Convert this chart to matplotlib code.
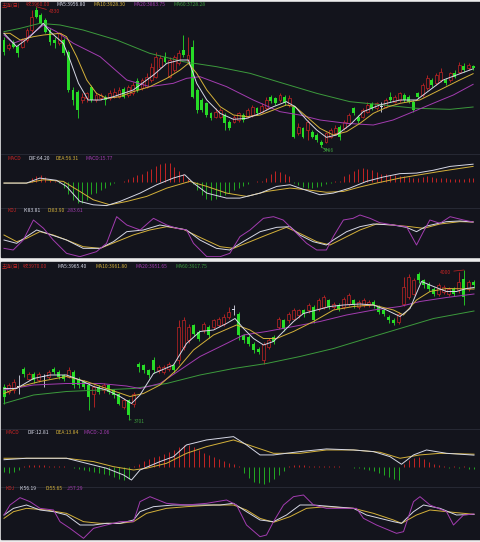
import numpy as np
import matplotlib.pyplot as plt
from matplotlib.patches import Rectangle
from matplotlib.lines import Line2D

plt.rcParams['font.family'] = ['Noto Sans CJK SC', 'DejaVu Sans']

# =============================
# Upper chart (daily candles)
# =============================
top_open = [4130, 4080, 4120, 4090, 4090, 4130, 4190, 4310, 4280, 4250,
            4190, 4130, 4110, 4130, 4060, 3830, 3820, 3770, 3780, 3850,
            3770, 3780, 3790, 3780, 3790, 3790, 3834, 3800, 3810, 3884,
            3840, 3850, 3890, 3910, 3970, 4030, 3910, 3950, 3990, 4070,
            4000, 4090, 3830, 3770, 3750, 3690, 3670, 3670, 3680, 3640,
            3640, 3650, 3680, 3670, 3680, 3720, 3700, 3720, 3790, 3780,
            3770, 3790, 3740, 3730, 3570, 3600, 3590, 3580, 3560, 3520,
            3520, 3550, 3570, 3610, 3600, 3630, 3720, 3670, 3670, 3700,
            3746, 3720, 3730, 3730, 3790, 3760, 3770, 3800, 3790, 3760,
            3810, 3800, 3840, 3890, 3870, 3890, 3890, 3890, 3934, 3940,
            3974, 3960, 3974]
top_close = [4060, 4100, 4090, 4050, 4130, 4190, 4270, 4270, 4230, 4180,
             4120, 4110, 4170, 4050, 3830, 3770, 3710, 3790, 3810, 3770,
             3800, 3800, 3770, 3810, 3820, 3830, 3790, 3850, 3860, 3830,
             3890, 3910, 3970, 4030, 4020, 4000, 4010, 4030, 4050, 4040,
             4040, 3790, 3710, 3710, 3680, 3660, 3700, 3710, 3630, 3600,
             3670, 3690, 3650, 3710, 3730, 3694, 3734, 3770, 3764, 3750,
             3800, 3750, 3780, 3550, 3610, 3550, 3640, 3550, 3530, 3500,
             3570, 3590, 3600, 3550, 3640, 3680, 3690, 3646, 3710, 3740,
             3720, 3750, 3732, 3770, 3770, 3790, 3810, 3770, 3760, 3710,
             3790, 3860, 3900, 3860, 3920, 3940, 3870, 3930, 3910, 3980,
             3950, 3980, 3960]
top_high = [4150, 4115, 4130, 4100, 4140, 4200, 4310, 4330, 4290, 4260,
            4200, 4150, 4180, 4140, 4070, 3850, 3830, 3810, 3820, 3860,
            3820, 3810, 3800, 3830, 3840, 3850, 3850, 3860, 3880, 3900,
            3900, 3930, 3990, 4060, 4040, 4060, 4030, 4040, 4070, 4160,
            4150, 4130, 3840, 3780, 3760, 3700, 3720, 3720, 3690, 3650,
            3680, 3700, 3690, 3720, 3740, 3730, 3750, 3790, 3800, 3790,
            3810, 3800, 3800, 3740, 3630, 3610, 3650, 3590, 3570, 3530,
            3580, 3600, 3620, 3620, 3650, 3690, 3730, 3680, 3720, 3760,
            3760, 3760, 3760, 3780, 3820, 3800, 3820, 3810, 3800, 3770,
            3820, 3870, 3920, 3900, 3930, 3960, 3900, 3940, 3950, 4000,
            3990, 3990, 3980]
top_low = [4040, 4070, 4080, 4030, 4080, 4120, 4180, 4260, 4220, 4170,
           4100, 4080, 4100, 4040, 3820, 3740, 3660, 3750, 3760, 3760,
           3760, 3770, 3740, 3770, 3780, 3780, 3780, 3790, 3800, 3820,
           3830, 3840, 3880, 3900, 3960, 3990, 3900, 3940, 3980, 4030,
           3990, 3780, 3690, 3700, 3670, 3650, 3660, 3660, 3590, 3590,
           3630, 3640, 3640, 3660, 3670, 3680, 3690, 3710, 3750, 3740,
           3760, 3740, 3730, 3540, 3560, 3540, 3530, 3540, 3520, 3486,
           3510, 3540, 3560, 3530, 3590, 3620, 3680, 3630, 3660, 3690,
           3710, 3710, 3700, 3720, 3760, 3750, 3760, 3760, 3750, 3700,
           3780, 3790, 3830, 3850, 3860, 3880, 3860, 3880, 3900, 3930,
           3940, 3950, 3950]

# moving averages: (candle index, price)
top_ma5 = [(0, 4170), (2.75, 4090), (5.65, 4150), (8.55, 4230), (10, 4180), (12.9, 4110),
           (14.35, 4010), (16.2, 3870), (18.3, 3770), (20.9, 3770), (23.8, 3790), (28.1, 3830),
           (32.5, 3920), (35.4, 3990), (38.3, 4010), (40.1, 4010), (41.9, 3870), (44.1, 3770),
           (47, 3690), (49.9, 3654), (52.8, 3660), (55.7, 3690), (58.6, 3730), (61.4, 3760),
           (63.3, 3730), (65.8, 3650), (68, 3590), (70.1, 3546), (72.3, 3560), (75.2, 3620),
           (78.1, 3700), (81.7, 3740), (86.1, 3770), (89.7, 3770), (92.6, 3830), (95.5, 3890),
           (98.4, 3920), (102, 3957)]
top_ma10 = [(0, 4170), (1.3, 4170), (3.5, 4130), (6.4, 4150), (8.6, 4160), (12.2, 4170),
            (13.6, 4150), (15.8, 4030), (18, 3890), (20.1, 3810), (22.3, 3780), (25.2, 3790),
            (28.1, 3820), (31.7, 3850), (35.4, 3900), (38.3, 3950), (40.1, 3990), (41.9, 3930),
            (44.1, 3830), (47, 3730), (49.9, 3680), (52.8, 3670), (55.7, 3680), (58.6, 3710),
            (61.4, 3740), (63.3, 3730), (65.8, 3670), (68.7, 3600), (71.6, 3560), (74.5, 3580),
            (77.4, 3630), (80.3, 3690), (83.2, 3726), (86.1, 3750), (90.4, 3770), (93.3, 3810),
            (96.2, 3850), (99.1, 3890), (102, 3928)]
top_ma20 = [(0, 4160), (2, 4110), (4.9, 4140), (8.6, 4220), (11.4, 4180), (15.1, 4110),
            (20.9, 4030), (26.7, 3890), (31.7, 3850), (36.8, 3870), (39.7, 3900), (42.6, 3910),
            (48.4, 3850), (54.2, 3770), (60, 3700), (64.3, 3680), (68.7, 3650), (74.5, 3630),
            (80.3, 3620), (84.6, 3650), (89, 3700), (93.3, 3750), (97.7, 3800), (102, 3864)]
top_ma60 = [(0, 4180), (3.5, 4200), (7.8, 4230), (12.2, 4220), (17.2, 4190), (24.5, 4130),
            (31.7, 4050), (39, 4000), (46.2, 3970), (53.5, 3930), (60.7, 3870), (68, 3810),
            (75.2, 3760), (82.5, 3740), (89.7, 3720), (97, 3714), (102, 3728)]

top_dif = [(0, -4), (4.9, -4), (7.8, 14), (11.4, 6), (13.6, -16), (16.5, -70), (19.4, -82),
           (22.3, -85), (25.2, -70), (29.6, -40), (33.2, -10), (36.8, 14), (39.3, 26), (41.2, -4),
           (44.1, -40), (48.4, -58), (51.3, -58), (55.7, -40), (59.3, -16), (62.2, -10),
           (64.3, -22), (68.7, -46), (71.6, -40), (75.2, -22), (78.8, 2), (82.5, 18), (86.1, 30),
           (89.7, 32), (93.3, 42), (97, 56), (102, 64)]
top_dea = [(0, -4), (4.9, -4), (8.6, 8), (12.9, 2), (16.5, -34), (19.4, -64), (23, -82),
           (26.7, -70), (31, -52), (35.4, -22), (40.4, 2), (44.1, -16), (48.4, -40), (52.8, -52),
           (57.1, -34), (62.2, -22), (65.8, -28), (70.1, -37), (73.8, -34), (77.4, -18), (81, -4),
           (86.1, 14), (90.4, 26), (94.8, 38), (102, 56)]
top_macd = [0, -1, 0, 1, 0, 1, 15, 22, 26, 18,
            8, 2, -4, -20, -45, -65, -75, -76, -65, -45,
            -40, -30, -22, -12, -4, 0, 3, 10, 18, 25,
            30, 38, 48, 58, 66, 70, 68, 55, 40, 30,
            12, -8, -30, -48, -60, -64, -60, -52, -46, -40,
            -30, -22, -14, -6, 0, 2, 4, 15, 30, 38,
            36, 30, 20, -5, -12, -18, -22, -22, -18, -14,
            -8, -3, 2, 5, 20, 30, 40, 46, 50, 48,
            42, 36, 30, 28, 26, 24, 22, 20, 18, 16,
            16, 18, 20, 18, 16, 14, 14, 12, 12, 12,
            12, 13, 14]

top_k = [(0, 30), (2.75, 20), (4.9, 40), (7.1, 60), (9.3, 50), (13.6, 30), (17.2, 5), (20.9, 5),
         (23.8, 25), (26.7, 55), (30.3, 60), (33.9, 75), (36.8, 68), (39.7, 60), (42.6, 30),
         (46.2, 5), (49.1, 0), (52, 25), (55.7, 55), (59.3, 68), (62.2, 70), (64.3, 45),
         (67.2, 25), (70.1, 15), (71.6, 30), (74.5, 55), (77.4, 70), (80.3, 78), (84.6, 75),
         (87.5, 68), (89.7, 55), (91.9, 72), (96.2, 85), (99.1, 87), (102, 84)]
top_d = [(0, 45), (2.75, 25), (4.9, 35), (7.8, 55), (10.7, 45), (13.6, 30), (17.2, 10), (20.9, 5),
         (24.5, 25), (28.1, 45), (31.7, 60), (35.4, 70), (39, 62), (42.6, 38), (47, 10),
         (49.9, 5), (53.5, 25), (57.1, 45), (61.4, 68), (64.3, 50), (68, 25), (70.9, 15),
         (73.8, 35), (77.4, 60), (81, 78), (84.6, 75), (88.3, 70), (91.2, 65), (94.8, 78),
         (99.1, 85), (102, 84)]
top_j = [(0, 5), (2, 0), (4.2, 30), (6.4, 90), (8.6, 65), (10.7, 30), (13.6, -10), (16.5, -20),
         (20.1, -5), (22.3, 20), (24.5, 100), (26.7, 75), (29.6, 60), (32.5, 95), (35.4, 75),
         (37.5, 65), (39.7, 60), (41.2, 20), (44.1, -20), (47, -20), (49.1, -10), (51.3, 40),
         (53.5, 60), (56.4, 95), (58.6, 100), (60.7, 90), (62.9, 60), (65.8, 20), (68, 0),
         (70.1, 0), (71.6, 40), (73.8, 90), (75.9, 95), (77.4, 105), (79.6, 95), (81.7, 82),
         (84.6, 75), (87.5, 70), (89.7, 15), (91.2, 55), (92.6, 90), (94.8, 80), (97, 100),
         (99.9, 90), (102, 84)]

# =============================
# Lower chart
# =============================
bot_open = [3767, 3757, 3760, 3767, 3803, 3783, 3793, 3780, 3787, 3787,
            3803, 3797, 3790, 3787, 3797, 3783, 3777, 3770, 3753, 3767,
            3760, 3770, 3760, 3753, 3727, 3740, 3733, 3813, 3810, 3800,
            3820, 3800, 3797, 3803, 3810, 3820, 3847, 3860, 3890, 3877,
            3880, 3887, 3887, 3890, 3893, 3907, 3920, 3913, 3870, 3867,
            3853, 3843, 3820, 3847, 3867, 3887, 3900, 3900, 3903, 3910,
            3920, 3920, 3927, 3923, 3927, 3940, 3927, 3931, 3927, 3933,
            3940, 3927, 3930, 3930, 3937, 3927, 3920, 3907, 3901, 3897,
            3933, 3947, 3953, 3993, 3980, 3973, 3963, 3953, 3957, 3953,
            3963, 3960, 3983, 3963, 3977]
bot_close = [3747, 3770, 3777, 3768, 3793, 3793, 3780, 3793, 3786, 3797,
             3797, 3787, 3783, 3800, 3770, 3770, 3767, 3747, 3767, 3757,
             3770, 3757, 3750, 3733, 3740, 3710, 3753, 3807, 3800, 3790,
             3800, 3807, 3807, 3813, 3800, 3887, 3900, 3887, 3873, 3863,
             3893, 3870, 3900, 3903, 3907, 3917, 3921, 3870, 3860, 3853,
             3840, 3837, 3853, 3860, 3857, 3903, 3883, 3913, 3920, 3920,
             3913, 3930, 3900, 3940, 3947, 3927, 3933, 3923, 3943, 3950,
             3930, 3937, 3940, 3937, 3930, 3917, 3913, 3900, 3895, 3913,
             3967, 3987, 3980, 3980, 3970, 3963, 3953, 3970, 3967, 3963,
             3953, 3977, 3947, 3977, 3970]
bot_high = [3773, 3775, 3782, 3790, 3807, 3797, 3797, 3797, 3793, 3800,
            3807, 3800, 3793, 3807, 3800, 3787, 3780, 3773, 3770, 3770,
            3775, 3773, 3763, 3755, 3745, 3743, 3757, 3817, 3813, 3803,
            3827, 3810, 3810, 3817, 3813, 3900, 3907, 3893, 3893, 3880,
            3897, 3890, 3903, 3907, 3912, 3927, 3930, 3916, 3873, 3870,
            3856, 3847, 3856, 3865, 3870, 3907, 3903, 3917, 3925, 3923,
            3923, 3935, 3930, 3945, 3950, 3943, 3937, 3935, 3947, 3955,
            3943, 3940, 3945, 3941, 3940, 3930, 3923, 3910, 3905, 3917,
            3987, 3993, 3985, 3997, 3983, 3976, 3967, 3974, 3971, 3967,
            3967, 3997, 4000, 3981, 3980]
bot_low = [3733, 3753, 3755, 3753, 3787, 3780, 3775, 3776, 3767, 3783,
           3793, 3783, 3778, 3784, 3765, 3765, 3762, 3720, 3727, 3752,
           3755, 3752, 3745, 3730, 3722, 3701, 3727, 3797, 3795, 3785,
           3795, 3795, 3793, 3798, 3795, 3812, 3840, 3855, 3868, 3858,
           3875, 3865, 3883, 3887, 3889, 3903, 3910, 3860, 3855, 3848,
           3835, 3832, 3813, 3842, 3852, 3882, 3878, 3895, 3900, 3905,
           3907, 3915, 3895, 3918, 3922, 3922, 3923, 3918, 3922, 3928,
           3925, 3922, 3926, 3926, 3925, 3912, 3908, 3895, 3890, 3893,
           3928, 3943, 3950, 3975, 3965, 3958, 3948, 3948, 3952, 3948,
           3948, 3955, 3930, 3958, 3965]

bot_ma5 = [(0, 3763), (2.5, 3763), (5.9, 3783), (9.2, 3790), (12.5, 3790), (15.2, 3780),
           (17.9, 3767), (20.5, 3760), (23.2, 3747), (25.5, 3733), (27.2, 3750), (29.9, 3793),
           (33.9, 3810), (36.5, 3853), (39.2, 3877), (41.9, 3880), (44.5, 3893), (46.2, 3903),
           (47.9, 3883), (49.9, 3863), (51.9, 3850), (53.9, 3857), (55.9, 3877), (57.9, 3897),
           (59.9, 3913), (62.5, 3920), (65.2, 3927), (67.9, 3930), (71.2, 3932), (73.9, 3930),
           (76.5, 3920), (79.2, 3907), (81.2, 3923), (83.5, 3977), (85.9, 3967), (88.5, 3957),
           (90.5, 3957), (92.5, 3963), (94, 3965)]
bot_ma10 = [(0, 3753), (3.2, 3767), (7.2, 3777), (12.5, 3787), (16.5, 3777), (20.5, 3763),
            (25.2, 3747), (27.9, 3753), (31.2, 3770), (34.5, 3800), (37.9, 3840), (41.9, 3870),
            (46.5, 3890), (49.2, 3880), (51.9, 3863), (54.5, 3863), (57.9, 3877), (61.9, 3897),
            (65.9, 3920), (69.9, 3927), (73.9, 3930), (77.9, 3920), (79.9, 3910), (82.5, 3940),
            (85.2, 3957), (88.5, 3963), (94, 3962)]
bot_ma20 = [(0, 3760), (5.9, 3770), (12.5, 3773), (19.2, 3773), (24.5, 3768), (27.2, 3763),
            (31.2, 3773), (35.2, 3800), (39.2, 3827), (44.5, 3853), (47.9, 3870), (52.5, 3877),
            (57.9, 3887), (63.2, 3897), (68.5, 3910), (73.9, 3920), (79.2, 3927), (83.2, 3937),
            (88.5, 3945), (94, 3952)]
bot_ma60 = [(0, 3733), (5.9, 3750), (12.5, 3757), (19.2, 3760), (25.9, 3763), (32.5, 3773),
            (39.2, 3790), (45.9, 3803), (52.5, 3813), (59.2, 3827), (65.9, 3843), (72.5, 3863),
            (79.2, 3883), (85.9, 3903), (94, 3918)]

bot_dif = [(0, 8), (4.5, 9.5), (12.5, 9.5), (16.5, 4.2), (20.5, -1), (23.9, -8), (25.5, -13.3),
           (27.2, -2.8), (31.2, 6), (33.9, 11.2), (36.5, 23.5), (40.5, 28.7), (45.9, 32.2),
           (48.5, 23.5), (51.2, 13), (53.9, 13), (59.2, 16.5), (64.5, 19.3), (69.9, 18.2),
           (73.9, 16.5), (77.2, 11.2), (79.5, 3.2), (81.9, 13), (84.5, 18.2), (88.5, 14.7),
           (94, 12.8)]
bot_dea = [(0, 9.5), (4.5, 9.5), (12.5, 9.5), (17.9, 6), (21.9, 0.7), (25.9, -2.8), (28.5, -1),
           (32.5, 4.2), (36.5, 14.7), (40.5, 21.7), (45.9, 28.7), (49.9, 21.7), (53.9, 14.7),
           (59.2, 14.7), (64.5, 18.2), (69.9, 18.2), (75.2, 15.8), (79.2, 9.5), (83.2, 13),
           (87.2, 14.7), (94, 13.8)]
bot_macd = [-5, -6, -5, -3, 1, 2, 2, 2, 2, 1.5,
            1.5, 1, 1, 0.5, -1, -2, -3, -4, -5, -6,
            -7, -8, -10, -12, -13, -12, 1, 4, 7, 9,
            11, 12, 14, 16, 18, 21, 23, 23, 21, 18,
            15, 13, 11, 9, 7, 5, 3, 1, -6, -11,
            -15, -16, -17, -15, -12, -8, -4, 1, 2, 2,
            2, 1.5, 1.5, 1.5, 1.5, 1, 1, 1, 0.5, 0.5,
            -0.5, -1, -2, -3, -4, -6, -8, -10, -12, -13,
            4, 8, 10, 11, 9, 6, 4, 2, 1, -1,
            1, -1, 1, -1.5, -2]

bot_k = [(0, 54), (1.9, 74), (4.5, 84), (7.2, 69), (9.9, 64), (12.5, 54), (15.2, 24), (17.9, 24),
         (20.5, 29), (23.2, 29), (25.9, 39), (27.2, 64), (29.9, 79), (33.9, 84), (39.2, 84),
         (43.2, 84), (45.9, 89), (48.5, 64), (51.2, 39), (53.9, 34), (56.5, 54), (59.2, 84),
         (61.9, 84), (65.9, 79), (69.9, 74), (72.5, 54), (75.2, 44), (77.9, 34), (79.5, 29),
         (81.9, 64), (83.9, 84), (87.2, 74), (90.5, 54), (94, 56)]
bot_d = [(0, 44), (1.9, 64), (4.5, 74), (8.5, 69), (12.5, 59), (15.9, 34), (19.2, 29), (23.2, 29),
         (25.9, 34), (28.5, 59), (32.5, 74), (36.5, 79), (41.9, 84), (45.9, 84), (48.5, 69),
         (51.2, 44), (53.9, 32), (57.2, 49), (60.5, 74), (64.5, 79), (69.9, 74), (73.9, 59),
         (77.9, 39), (79.5, 29), (82.5, 54), (85.2, 69), (88.5, 64), (94, 56)]
bot_j = [(0, 54), (1.2, 84), (3.2, 106), (5.2, 94), (7.2, 74), (9.9, 69), (11.2, 34), (13.2, 14),
         (15.9, -16), (17.9, 14), (20.5, 24), (23.2, 34), (25.9, 34), (27.2, 94), (29.2, 109),
         (32.5, 89), (36.5, 84), (40.5, 89), (44.5, 99), (46.5, 84), (48.5, 24), (51.2, -11),
         (52.5, -6), (53.9, 34), (55.9, 84), (57.9, 109), (59.9, 114), (61.9, 84), (64.5, 74),
         (67.2, 74), (70.5, 74), (71.9, 44), (74.5, 24), (78.5, -1), (79.9, 4), (81.9, 94),
         (83.2, 109), (85.2, 84), (88.5, 64), (89.9, 24), (91.9, 54), (94, 57)]

top_head = ["主连(日)", "收:3960.00", "MA5:3956.80", "MA10:3928.30", "MA20:3863.75", "MA60:3728.28"]
top_macd_head = ["MACD", "DIF:64.20", "DEA:56.31", "MACD:15.77"]
top_kdj_head = ["KDJ", "K:83.81", "D:83.90", "J:83.61"]
bot_head = ["主连(日)", "收:3970.00", "MA5:3965.40", "MA10:3961.80", "MA20:3951.65", "MA60:3917.75"]
bot_macd_head = ["MACD", "DIF:12.81", "DEA:13.84", "MACD:-2.06"]
bot_kdj_head = ["KDJ", "K:56.19", "D:55.65", "J:57.29"]

# -----------------------------
# styling
# -----------------------------
BG = '#13141c'
RED = '#c42424'
GREEN = '#27dc27'
WHITE = '#d6d8e6'
YELLOW = '#d4b13a'
PURPLE = '#a33cb0'
MAGREEN = '#3c9a3c'
FS = 3.6

W, H = 481, 542
fig = plt.figure(figsize=(W / 100, H / 100), dpi=100, facecolor='#ececec')

for y0, y1 in [(2, 257), (262, 539)]:
    fig.add_artist(Rectangle((1 / W, 1 - y1 / H), 479 / W, (y1 - y0) / H,
                             transform=fig.transFigure, color=BG, zorder=0))


def add_ax(y0, y1, xlim, ylim):
    ax = fig.add_axes([1 / W, 1 - y1 / H, 479 / W, (y1 - y0) / H])
    ax.set_facecolor(BG)
    ax.set_xlim(*xlim)
    ax.set_ylim(*ylim)
    ax.set_xticks([])
    ax.set_yticks([])
    for s in ax.spines.values():
        s.set_visible(False)
    return ax


def hline(y):
    fig.add_artist(Line2D([1 / W, 480 / W], [1 - y / H, 1 - y / H],
                          transform=fig.transFigure, color='#2a2c38', lw=0.6))


def candles(ax, o, c, h, l, width, min_h):
    o, c, h, l = (np.asarray(a, dtype=float) for a in (o, c, h, l))
    x = np.arange(len(o))
    up = c > o
    doji = np.abs(c - o) < 3
    wick_col = np.where(doji, WHITE, np.where(up, RED, GREEN))
    ax.vlines(x, l, h, colors=wick_col, lw=0.6, zorder=2)
    bottom = np.minimum(o, c)
    height = np.maximum(np.abs(c - o), min_h)
    dn = ~up & ~doji
    ax.bar(x[dn], height[dn], width, bottom[dn], color=GREEN, lw=0, zorder=3)
    ru = up & ~doji
    ax.bar(x[ru], height[ru], width, bottom[ru], facecolor=BG, edgecolor=RED, lw=0.5, zorder=3)
    ax.bar(x[doji], min_h, width, bottom[doji], color=WHITE, lw=0, zorder=3)


def line(ax, pts, color, lw=0.7):
    x, y = np.array(pts, dtype=float).T
    ax.plot(x, y, color=color, lw=lw, zorder=4)


def hist(ax, vals):
    v = np.asarray(vals, dtype=float)
    x = np.arange(len(v))
    ax.vlines(x, 0, v, colors=np.where(v >= 0, RED, '#22a822'), lw=0.7, zorder=2)


def texts(y, xs, labels, colors):
    for x, s, col in zip(xs, labels, colors):
        fig.text(x / W, 1 - y / H, s, color=col, fontsize=FS, va='center', ha='left')


def mark(ax, i, v, s, col, dx, dy, ha):
    ax.annotate(s, xy=(i, v), xytext=(dx, dy), textcoords='offset pixels',
                color=col, fontsize=FS, ha=ha, va='center',
                arrowprops=dict(arrowstyle='-', color=col, lw=0.5, shrinkA=0, shrinkB=0))


head_cols = [RED, RED, WHITE, YELLOW, PURPLE, MAGREEN]
sub_cols = [RED, WHITE, YELLOW, PURPLE]

# -----------------------------
# 1. Upper chart
# -----------------------------
xl_top = (-0.65, 103.5)
ax1 = add_ax(3, 152, xl_top, (3458, 4352))
candles(ax1, top_open, top_close, top_high, top_low, 0.62, 4)
line(ax1, top_ma60, MAGREEN)
line(ax1, top_ma20, PURPLE)
line(ax1, top_ma10, YELLOW)
line(ax1, top_ma5, WHITE)
ih = int(np.argmax(top_high))
mark(ax1, ih, top_high[ih], f"{top_high[ih]:.0f}", RED, 13, -5, 'left')
il = int(np.argmin(top_low))
mark(ax1, il, top_low[il], f"{top_low[il]:.0f}", MAGREEN, 2, -3, 'left')

ax2 = add_ax(155, 207, xl_top, (-90, 97))
hist(ax2, top_macd)
line(ax2, top_dea, YELLOW)
line(ax2, top_dif, WHITE)

ax3 = add_ax(208, 257, xl_top, (-21, 126))
line(ax3, top_d, YELLOW)
line(ax3, top_k, WHITE)
line(ax3, top_j, PURPLE)

hline(154)
hline(207.5)
texts(5, [2, 26, 57, 93, 133, 173], top_head, head_cols)
texts(159, [7, 29, 56, 85], top_macd_head, sub_cols)
texts(211, [7, 23, 47, 67], top_kdj_head, sub_cols)

# -----------------------------
# 2. Lower chart
# -----------------------------
xl_bot = (-0.6, 95.2)
ax4 = add_ax(263, 428, xl_bot, (3684, 4014))
candles(ax4, bot_open, bot_close, bot_high, bot_low, 0.6, 1.5)
line(ax4, bot_ma60, MAGREEN)
line(ax4, bot_ma20, PURPLE)
line(ax4, bot_ma10, YELLOW)
line(ax4, bot_ma5, WHITE)
ih = int(np.argmax(bot_high))
mark(ax4, ih, bot_high[ih], f"{bot_high[ih]:.0f}", RED, -13, -2, 'right')
il = int(np.argmin(bot_low))
mark(ax4, il, bot_low[il], f"{bot_low[il]:.0f}", MAGREEN, 5, -2, 'left')

ax5 = add_ax(429, 486, xl_bot, (-19.6, 40.2))
hist(ax5, bot_macd)
line(ax5, bot_dea, YELLOW)
line(ax5, bot_dif, WHITE)

ax6 = add_ax(487, 539, xl_bot, (-18, 138))
line(ax6, bot_d, YELLOW)
line(ax6, bot_k, WHITE)
line(ax6, bot_j, PURPLE)

hline(428.5)
hline(486.5)
texts(266, [2, 23, 58, 95, 135, 175], bot_head, head_cols)
texts(433, [5, 27, 55, 83], bot_macd_head, sub_cols)
texts(488, [5, 20, 45, 67], bot_kdj_head, sub_cols)

plt.savefig("out.png", dpi=100, facecolor=fig.get_facecolor())
plt.close()
